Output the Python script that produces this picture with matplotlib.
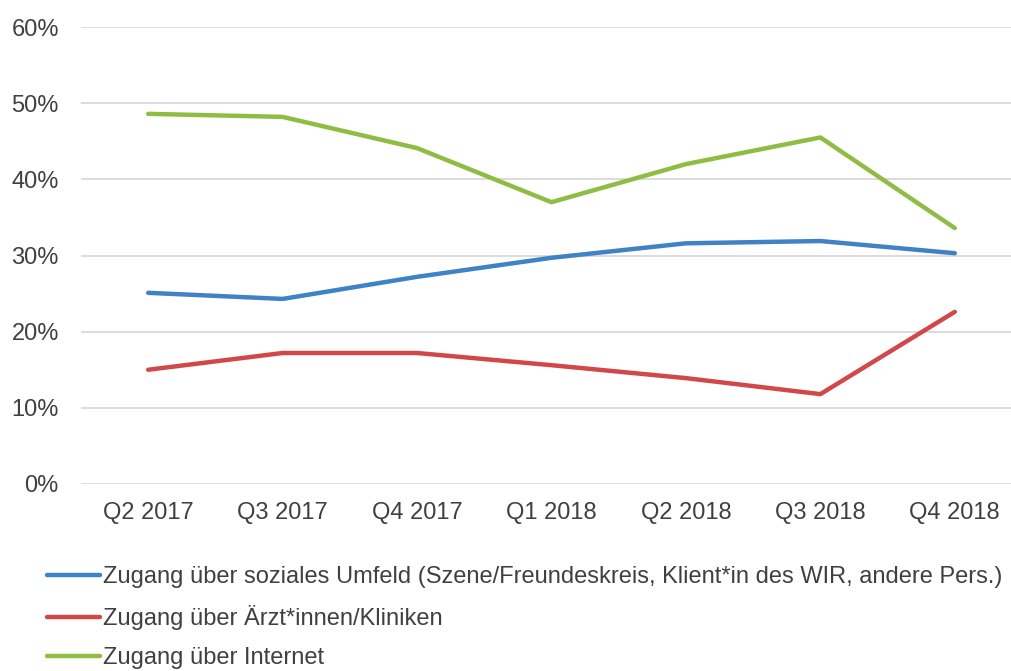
import matplotlib
matplotlib.use('Agg')
import matplotlib.pyplot as plt
from matplotlib.ticker import PercentFormatter

# Quartale und Anteile (in %)
quarters = ['Q2 2017', 'Q3 2017', 'Q4 2017', 'Q1 2018', 'Q2 2018', 'Q3 2018', 'Q4 2018']
umfeld = [25.1, 24.3, 27.2, 29.7, 31.6, 31.9, 30.3]
aerzte = [15.0, 17.2, 17.2, 15.6, 13.9, 11.8, 22.6]
internet = [48.6, 48.2, 44.1, 37.0, 42.0, 45.5, 33.6]

labels = [
    'Zugang über soziales Umfeld (Szene/Freundeskreis, Klient*in des WIR, andere Pers.)',
    'Zugang über Ärzt*innen/Kliniken',
    'Zugang über Internet',
]
colors = ['#3f82c5', '#d1474a', '#8fbd44']

plt.rcParams['font.family'] = ['Liberation Sans', 'DejaVu Sans']

fig = plt.figure(figsize=(10.12, 6.71), dpi=100)
ax = fig.add_axes([81 / 1012, 1 - 484 / 671, (1022 - 81) / 1012, (484 - 27) / 671])

x = list(range(len(quarters)))
for vals, lab, col in zip([umfeld, aerzte, internet], labels, colors):
    ax.plot(x, vals, color=col, lw=3.2, label=lab, solid_capstyle='round', zorder=3)

ax.set_xlim(-0.5, len(quarters) - 0.5)
ax.set_ylim(0, 60)
ax.set_yticks(range(0, 61, 10))
ax.yaxis.set_major_formatter(PercentFormatter(decimals=0))
ax.set_xticks(x)
ax.set_xticklabels(quarters)
ax.tick_params(axis='both', length=0, labelsize=17, colors='#404040')
ax.tick_params(axis='x', pad=13)
ax.tick_params(axis='y', pad=16)
ax.grid(axis='y', color='#d9d9d9', lw=1.3)
ax.set_axisbelow(True)
for s in ax.spines.values():
    s.set_visible(False)

fig.legend(loc='upper left', bbox_to_anchor=(47 / 1012, 1 - 566 / 671),
           frameon=False, fontsize=17, handlelength=2.25, handletextpad=0.12,
           labelspacing=0.72, borderpad=0, borderaxespad=0, labelcolor='#404040')

fig.savefig('out.png', dpi=100)
